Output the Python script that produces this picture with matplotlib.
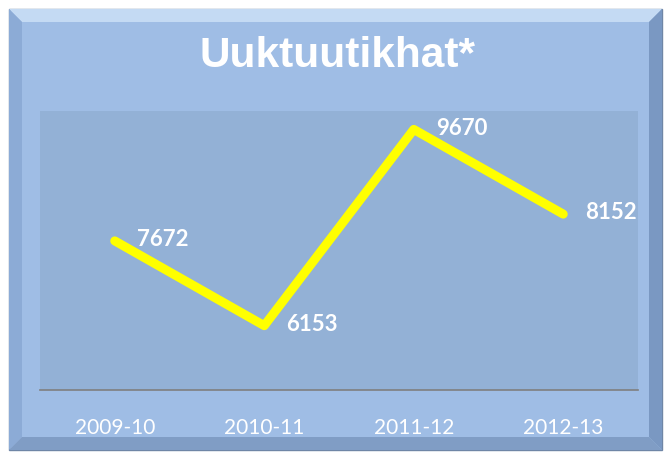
import matplotlib
matplotlib.use("Agg")
import matplotlib.pyplot as plt
from matplotlib.patches import Polygon, Rectangle

# chart data
seasons = ["2009-10", "2010-11", "2011-12", "2012-13"]
counts = [7672, 6153, 9670, 8152]
title = "Uuktuutikhat*"

W, H = 667, 453
fig = plt.figure(figsize=(W / 100, H / 100), dpi=100)
fig.patch.set_facecolor("white")

# background axes in pixel units for the bevelled frame
bg = fig.add_axes([0, 0, 1, 1])
bg.set_xlim(0, W)
bg.set_ylim(H, 0)
bg.axis("off")

x0, x1, y0, y1 = 9, 662, 9, 450
b = 13
face = "#9FBDE5"
bevels = [
    ([(x0, y0), (x1, y0), (x1 - b, y0 + b), (x0 + b, y0 + b)], "#C4DAF3"),  # top
    ([(x0, y0), (x0 + b, y0 + b), (x0 + b, y1 - b), (x0, y1)], "#8CABD6"),  # left
    ([(x1, y0), (x1, y1), (x1 - b, y1 - b), (x1 - b, y0 + b)], "#7A98C2"),  # right
    ([(x0, y1), (x0 + b, y1 - b), (x1 - b, y1 - b), (x1, y1)], "#809DC5"),  # bottom
]
bg.add_patch(Rectangle((x0, y0), x1 - x0, y1 - y0, facecolor=face, edgecolor="#6F86A6", lw=1.0))
for pts, col in bevels:
    bg.add_patch(Polygon(pts, closed=True, facecolor=col, edgecolor="none"))
bg.add_patch(Rectangle((x0 + b, y0 + b), x1 - x0 - 2 * b, y1 - y0 - 2 * b,
                       facecolor=face, edgecolor="none"))

bg.text(338, 56, title, color="white", fontsize=30.5, fontweight="bold",
        family="Liberation Sans", ha="center", va="center")

# plot area
ax = fig.add_axes([40 / W, 1 - 390 / H, 598 / W, 279 / H])
ax.set_facecolor("#93B1D6")
xs = list(range(len(seasons)))
ax.plot(xs, counts, color="#FFFF00", lw=6.5, solid_capstyle="round",
        solid_joinstyle="round", zorder=3)
for x, v in zip(xs, counts):
    ax.annotate(str(v), (x, v), xytext=(16, 1), textcoords="offset points",
                color="white", fontsize=16, fontweight="bold", family="Lato",
                ha="left", va="center", zorder=4)

ax.set_xlim(-0.5, len(seasons) - 0.5)
ax.set_ylim(5000, 10000)
ax.set_yticks([])
ax.set_xticks(xs)
ax.set_xticklabels(seasons, color="white", fontsize=15, family="Lato")
ax.tick_params(axis="x", length=0, pad=20)
for side in ["top", "left", "right"]:
    ax.spines[side].set_visible(False)
ax.spines["bottom"].set_color("#7F7F7F")
ax.spines["bottom"].set_linewidth(1.2)

fig.savefig("out.png", dpi=100)
